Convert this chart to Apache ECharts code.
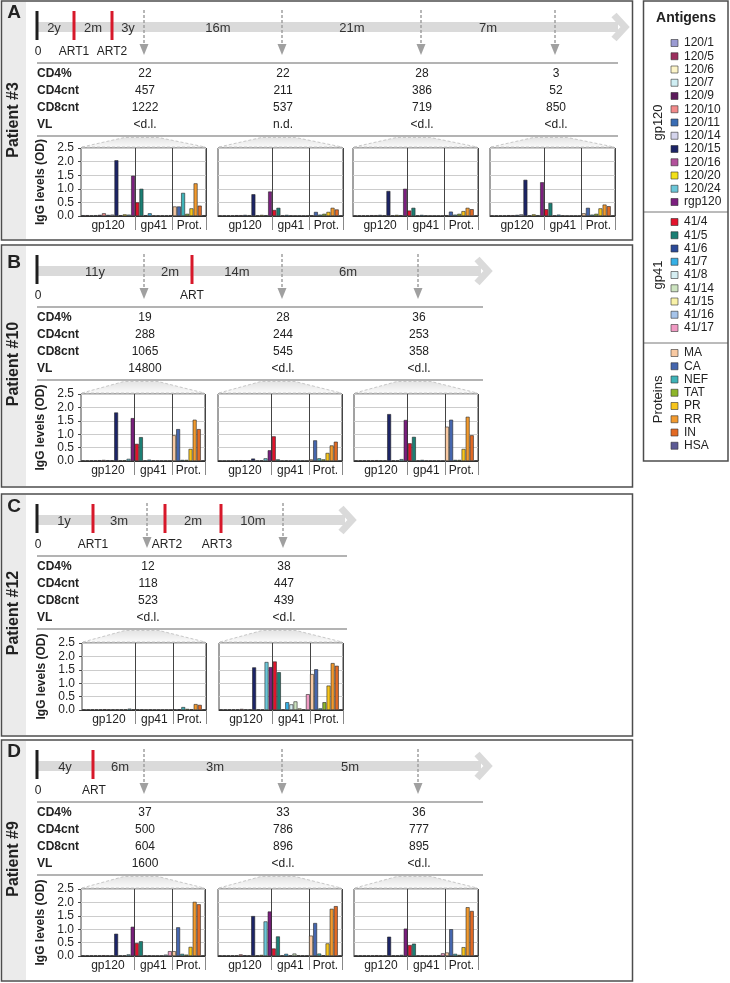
<!DOCTYPE html>
<html><head><meta charset="utf-8">
<script src="https://cdn.jsdelivr.net/npm/echarts@6/dist/echarts.min.js"></script>
<style>html,body{margin:0;padding:0;background:#fff}#c{width:730px;height:983px}</style>
</head><body><div id="c"></div>
<script>
// ---------- data ----------
const gp120Antigens = ['120/1','120/5','120/6','120/7','120/9','120/10','120/11','120/14','120/15','120/16','120/20','120/24','rgp120'];
const gp41Antigens = ['41/4','41/5','41/6','41/7','41/8','41/14','41/15','41/16','41/17'];
const proteinAntigens = ['MA','CA','NEF','TAT','PR','RR','IN','HSA'];
const antigenColors = ['#9b9bd2','#9c2f5e','#fdf5c9','#cfeef3','#5b1a5b','#f28a8a','#3a6db4','#d4d4ec','#1c2466','#b2519b','#f2e11a','#6ac6d8','#7b1f7e',
  '#e3132c','#1b7f74','#2b4a98','#35b0e6','#d5eef2','#cde4c0','#f9f2a8','#a6c4ea','#f09ac3',
  '#f8c9a2','#4566ae','#3fb3b8','#8db52a','#f7c51c','#f29a2e','#e36a24','#5c5a94'];
const groupLabels = ['gp120','gp41','Prot.'];
const legendGroups = ['gp120','gp41','Proteins'];
const rowNames = ['CD4%','CD4cnt','CD8cnt','VL'];
const yTickLabels = ['0.0','0.5','1.0','1.5','2.0','2.5'];

// Patient #3 (A)
const A_intervals = ['2y','2m','3y','16m','21m','7m'];
const A_events = ['ART1','ART2'];
const A_cd4pct = [22,22,28,3];
const A_cd4cnt = [457,211,386,52];
const A_cd8cnt = [1222,537,719,850];
const A_vl = ['<d.l.','n.d.','<d.l.','<d.l.'];
const A_t1 = [0.03,0.03,0.02,0.03,0.04,0.10,0.04,0.05,2.05,0.03,0.06,0.05,1.48, 0.50,1.00,0.03,0.10,0.02,0.02,0.02,0.02,0.03, 0.35,0.35,0.85,0.08,0.28,1.20,0.38,0.03];
const A_t2 = [0.02,0.02,0.02,0.02,0.03,0.03,0.04,0.03,0.80,0.02,0.04,0.03,0.90, 0.22,0.30,0.02,0.04,0.02,0.01,0.01,0.01,0.01, 0.03,0.15,0.05,0.08,0.15,0.30,0.24,0.02];
const A_t3 = [0.02,0.02,0.02,0.02,0.03,0.03,0.04,0.03,0.92,0.02,0.04,0.03,1.00, 0.20,0.30,0.02,0.04,0.02,0.01,0.01,0.01,0.01, 0.03,0.16,0.05,0.08,0.18,0.30,0.25,0.02];
const A_t4 = [0.02,0.02,0.02,0.02,0.03,0.03,0.04,0.06,1.33,0.02,0.06,0.03,1.24, 0.25,0.48,0.02,0.05,0.02,0.01,0.01,0.01,0.01, 0.10,0.30,0.05,0.08,0.28,0.42,0.36,0.02];

// Patient #10 (B)
const B_intervals = ['11y','2m','14m','6m'];
const B_events = ['ART'];
const B_cd4pct = [19,28,36];
const B_cd4cnt = [288,244,253];
const B_cd8cnt = [1065,545,358];
const B_vl = ['14800','<d.l.','<d.l.'];
const B_t1 = [0.02,0.02,0.02,0.02,0.03,0.04,0.03,0.03,1.81,0.02,0.03,0.08,1.60, 0.64,0.89,0.02,0.05,0.02,0.01,0.01,0.01,0.01, 0.96,1.19,0.04,0.04,0.45,1.54,1.19,0.02];
const B_t2 = [0.01,0.01,0.01,0.01,0.02,0.03,0.02,0.02,0.09,0.01,0.02,0.10,0.40, 0.92,0.06,0.01,0.02,0.01,0.01,0.01,0.01,0.01, 0.06,0.77,0.10,0.06,0.30,0.58,0.72,0.01];
const B_t3 = [0.02,0.02,0.02,0.02,0.02,0.03,0.02,0.02,1.75,0.02,0.02,0.07,1.53, 0.66,0.90,0.02,0.04,0.01,0.01,0.01,0.01,0.01, 1.28,1.54,0.04,0.04,0.45,1.65,0.96,0.02];

// Patient #12 (C)
const C_intervals = ['1y','3m','2m','10m'];
const C_events = ['ART1','ART2','ART3'];
const C_cd4pct = [12,38];
const C_cd4cnt = [118,447];
const C_cd8cnt = [523,439];
const C_vl = ['<d.l.','<d.l.'];
const C_t1 = [0.02,0.02,0.02,0.02,0.02,0.03,0.02,0.02,0.02,0.02,0.02,0.05,0.02, 0.02,0.02,0.01,0.02,0.01,0.01,0.01,0.01,0.01, 0.02,0.03,0.11,0.04,0.03,0.22,0.19,0.02];
const C_t2 = [0.02,0.02,0.02,0.02,0.02,0.04,0.02,0.02,1.59,0.02,0.02,1.79,1.60, 1.81,1.41,0.02,0.29,0.21,0.32,0.06,0.02,0.59, 1.34,1.52,0.06,0.29,0.91,1.75,1.65,0.02];

// Patient #9 (D)
const D_intervals = ['4y','6m','3m','5m'];
const D_events = ['ART'];
const D_cd4pct = [37,33,36];
const D_cd4cnt = [500,786,777];
const D_cd8cnt = [604,896,895];
const D_vl = ['1600','<d.l.','<d.l.'];
const D_t1 = [0.02,0.02,0.02,0.02,0.02,0.03,0.02,0.02,0.83,0.02,0.02,0.06,1.09, 0.48,0.55,0.02,0.02,0.01,0.01,0.01,0.05,0.18, 0.18,1.07,0.08,0.05,0.34,2.02,1.93,0.02];
const D_t2 = [0.02,0.02,0.02,0.02,0.02,0.06,0.03,0.02,1.49,0.02,0.04,1.29,1.66, 0.28,0.73,0.02,0.08,0.02,0.09,0.03,0.02,0.02, 0.76,1.23,0.09,0.03,0.47,1.76,1.86,0.02];
const D_t3 = [0.02,0.02,0.02,0.02,0.02,0.03,0.02,0.02,0.72,0.02,0.02,0.04,1.02, 0.41,0.46,0.02,0.02,0.01,0.01,0.02,0.03,0.10, 0.13,1.00,0.08,0.04,0.33,1.82,1.68,0.02];

// ---------- layout (positions only) ----------
const panelData = [
  {letter:'A', patient:'Patient #3', intervals:A_intervals, events:A_events, rows:[A_cd4pct,A_cd4cnt,A_cd8cnt,A_vl], igg:[A_t1,A_t2,A_t3,A_t4]},
  {letter:'B', patient:'Patient #10', intervals:B_intervals, events:B_events, rows:[B_cd4pct,B_cd4cnt,B_cd8cnt,B_vl], igg:[B_t1,B_t2,B_t3]},
  {letter:'C', patient:'Patient #12', intervals:C_intervals, events:C_events, rows:[C_cd4pct,C_cd4cnt,C_cd8cnt,C_vl], igg:[C_t1,C_t2]},
  {letter:'D', patient:'Patient #9', intervals:D_intervals, events:D_events, rows:[D_cd4pct,D_cd4cnt,D_cd8cnt,D_vl], igg:[D_t1,D_t2,D_t3]}
];
const layout = [
  {T:1, H:239, letterY:13, tip:627, lineEnd:618, arrows:[144,282,421,555], eventX:[74,112], eventLabelX:[74,112], intervalX:[54,93,128,218,352,488], plotLeft:[81,218,353,490], plotW:125, plotTop:148, plotH:68},
  {T:245, H:242, letterY:263, tip:490, lineEnd:483, arrows:[144,282,418], eventX:[192], eventLabelX:[192], intervalX:[95,170,237,348], plotLeft:[81,218,354], plotW:124, plotTop:394, plotH:67},
  {T:494, H:242, letterY:507, tip:354, lineEnd:347, arrows:[147,283], eventX:[93,165,221], eventLabelX:[93,167,217], intervalX:[64,119,193,253], plotLeft:[82,219], plotW:124, plotTop:643, plotH:67},
  {T:740, H:241, letterY:752, tip:490, lineEnd:483, arrows:[144,282,418], eventX:[93], eventLabelX:[94], intervalX:[65,120,215,350], plotLeft:[81,218,354], plotW:124, plotTop:889, plotH:67}
];

const FONT = 'Liberation Sans';
const allAntigens = gp120Antigens.concat(gp41Antigens, proteinAntigens);
const b1 = gp120Antigens.length, b2 = gp120Antigens.length + gp41Antigens.length;
const groupCenters = [b1/2, (b1+b2)/2, (b2+allAntigens.length)/2];

// ---------- graphic helpers ----------
const G = [];
function rect(x,y,w,h,style,z){G.push({type:'rect',shape:{x,y,width:w,height:h},style,z:z||0,silent:true});}
function line(x1,y1,x2,y2,style,z){G.push({type:'line',shape:{x1,y1,x2,y2},style,z:z||1,silent:true});}
function poly(points,style,z){G.push({type:'polygon',shape:{points},style,z:z||1,silent:true});}
function pline(points,style,z){G.push({type:'polyline',shape:{points},style,z:z||1,silent:true});}
function text(x,y,t,opt,rot){
  const st = Object.assign({text:String(t),fill:'#222',fontSize:12,fontFamily:FONT,fontWeight:'normal',align:'center',verticalAlign:'middle',textAlign:'center',textVerticalAlign:'middle'},opt||{});
  if (st.align) st.textAlign = st.align;
  G.push({type:'text',x,y,rotation:rot||0,style:st,z:5,silent:true});
}

const grids=[], xAxes=[], yAxes=[], series=[];
const isDivider = (i)=> i===b1 || i===b2;

panelData.forEach((p,pi)=>{
  const L = layout[pi], T = L.T;
  // panel frame and strip
  rect(2.5, T+1, 23.5, L.H-2, {fill:'#ebebeb'}, 0);
  rect(1.5, T, 631, L.H, {fill:null, stroke:'#4d4d4d', lineWidth:1.5}, 6);
  text(14, L.letterY, p.letter, {fontSize:19, fontWeight:'bold'});
  text(14, T+119, p.patient, {fontSize:16, fontWeight:'bold'}, Math.PI/2);
  // timeline
  const cy = T+26;
  rect(37, cy-5, L.tip-37-9, 10, {fill:'#dadada'}, 1);
  pline([[L.tip-13, cy-12],[L.tip-2, cy],[L.tip-13, cy+12]], {stroke:'#dadada', lineWidth:7, fill:null, lineJoin:'miter'}, 1);
  rect(35.5, T+10, 3, 29, {fill:'#1e1e1e'}, 3);
  L.eventX.forEach((x)=>rect(x-1.5, T+10, 3, 29, {fill:'#d7182a'}, 3));
  p.intervals.forEach((s,i)=>text(L.intervalX[i], T+27, s, {fontSize:13, fill:'#333'}));
  text(38, T+51, '0', {fontSize:12});
  p.events.forEach((s,i)=>text(L.eventLabelX[i], T+51, s, {fontSize:12}));
  L.arrows.forEach((x)=>{
    line(x, T+9, x, T+44, {stroke:'#a0a0a0', lineWidth:1.5, lineDash:[3,2]}, 2);
    poly([[x-4.5,T+43],[x+4.5,T+43],[x,T+54]], {fill:'#a0a0a0'}, 2);
  });
  // table
  line(37, T+62, L.lineEnd, T+62, {stroke:'#9a9a9a', lineWidth:1.5}, 1);
  line(37, T+135, L.lineEnd, T+135, {stroke:'#9a9a9a', lineWidth:1.5}, 1);
  const rowY = [T+73, T+90, T+107, T+124];
  rowNames.forEach((r,ri)=>{
    text(37, rowY[ri], r, {fontSize:12, fontWeight:'bold', align:'left'});
    p.rows[ri].forEach((v,k)=>text(L.arrows[k]+1, rowY[ri], v, {fontSize:12}));
  });
  // charts
  p.igg.forEach((vals,k)=>{
    const gi = grids.length;
    const left = L.plotLeft[k], cx = left + L.plotW/2;
    poly([[left+1, L.plotTop-1],[cx-19, T+136.5],[cx+15, T+136.5],[left+L.plotW-1, L.plotTop-1]],
      {fill: new echarts.graphic.LinearGradient(0,0,0,1,[{offset:0,color:'#e2e2e2'},{offset:1,color:'#fbfbfb'}]), stroke:'#c8c8c8', lineWidth:1, lineDash:[3,2]}, 0);
    grids.push({left:left, top:L.plotTop, width:L.plotW, height:L.plotH, show:true, borderColor:'#444', borderWidth:1, backgroundColor:'transparent', containLabel:false, outerBoundsMode:'none'});
    xAxes.push({type:'category', gridIndex:gi, data:allAntigens, boundaryGap:true,
      axisLine:{show:true, lineStyle:{color:'#333', width:1}},
      axisTick:{show:true, interval:isDivider, length:14, lineStyle:{color:'#888', width:1}},
      splitLine:{show:true, interval:isDivider, lineStyle:{color:'#444', width:1}},
      axisLabel:{show:false}});
    xAxes.push({type:'value', gridIndex:gi, min:0, max:allAntigens.length, interval:0.5, position:'bottom',
      axisLine:{show:false}, axisTick:{show:false}, splitLine:{show:false},
      axisLabel:{show:true, margin:4, fontSize:12, fontFamily:FONT, color:'#222', showMinLabel:true, showMaxLabel:true,
        formatter:(v)=>{ for(let g=0; g<3; g++){ if(Math.abs(v-groupCenters[g])<1e-6) return groupLabels[g]; } return ''; }}});
    const first = k===0;
    yAxes.push({type:'value', gridIndex:gi, min:0, max:2.5, interval:0.5,
      axisLine:{show:false}, axisTick:{show:first, length:3, lineStyle:{color:'#444'}},
      splitLine:{show:true, lineStyle:{color:'#cccccc', width:1}},
      axisLabel:{show:first, margin:7, fontSize:12, fontFamily:FONT, color:'#222', formatter:(v)=>yTickLabels[Math.round(v*2)]},
      name: first ? 'IgG levels (OD)' : '', nameLocation:'middle', nameGap:34, nameRotate:90,
      nameTextStyle:{fontSize:12, fontWeight:'bold', fontFamily:FONT, color:'#222'}});
    series.push({type:'bar', xAxisIndex:2*gi, yAxisIndex:gi, barCategoryGap:'6%', animation:false,
      itemStyle:{borderColor:'#262626', borderWidth:0.6},
      data: vals.map((v,i)=>({value:v, itemStyle:{color:antigenColors[i]}}))});
  });
});

// ---------- legend box ----------
rect(643.5, 1, 84.5, 460, {fill:null, stroke:'#4d4d4d', lineWidth:1.5}, 6);
text(686, 18, 'Antigens', {fontSize:14, fontWeight:'bold'});
const legendLists = [gp120Antigens, gp41Antigens, proteinAntigens];
const legendStart = [43, 222, 353];
const legendDiv = [212, 343];
let ci = 0;
legendLists.forEach((list,g)=>{
  list.forEach((name,i)=>{
    const y = legendStart[g] + i*13.25;
    rect(671, y-3.5, 7, 7, {fill:antigenColors[ci], stroke:'#333', lineWidth:0.6}, 4);
    text(684, y, name, {fontSize:12, align:'left'});
    ci++;
  });
  const mid = legendStart[g] + (list.length-1)*13.25/2;
  text(658, mid, legendGroups[g], {fontSize:13}, Math.PI/2);
});
legendDiv.forEach((y)=>line(643.5, y, 728, y, {stroke:'#777', lineWidth:1}, 4));

const chart = echarts.init(document.getElementById('c'), null, {renderer:'canvas'});
chart.setOption({
  animation:false,
  backgroundColor:'#ffffff',
  textStyle:{fontFamily:FONT},
  grid:grids, xAxis:xAxes, yAxis:yAxes, series:series,
  graphic:{elements:G}
});
</script></body></html>
